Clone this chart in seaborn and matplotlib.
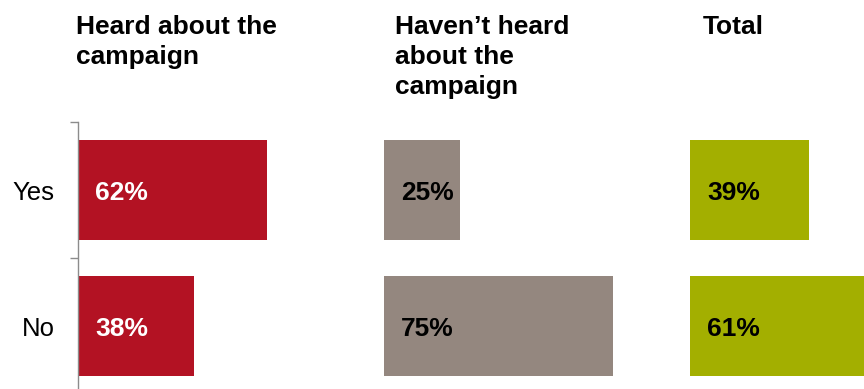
import matplotlib
matplotlib.use("Agg")
import matplotlib.pyplot as plt
import seaborn as sns
import pandas as pd

# Survey answers split by campaign awareness
answers = ["Yes", "No"]
heard = [62, 38]
not_heard = [25, 75]
total = [39, 61]

panel_titles = ["Heard about the\ncampaign", "Haven\u2019t heard\nabout the\ncampaign", "Total"]
panel_values = [heard, not_heard, total]
panel_colors = ["#B31223", "#94877F", "#A3AF00"]
label_colors = ["white", "black", "black"]

sns.set_theme(style="white")
plt.rcParams["font.family"] = ["Liberation Sans", "DejaVu Sans"]

W, H = 864, 389
fig = plt.figure(figsize=(W / 100, H / 100), dpi=100)

panel_left_px = [78, 384, 690]
panel_width_px = 305
axis_top_px, axis_bottom_px = 122, 394
title_x_px = [76, 395, 703]

for i, (vals, color, lab_col) in enumerate(zip(panel_values, panel_colors, label_colors)):
    ax = fig.add_axes([
        panel_left_px[i] / W,
        (H - axis_bottom_px) / H,
        panel_width_px / W,
        (axis_bottom_px - axis_top_px) / H,
    ])
    df = pd.DataFrame({"answer": answers, "share": vals})
    sns.barplot(data=df, x="share", y="answer", ax=ax, color=color,
                width=0.735, saturation=1, edgecolor="none", orient="h")
    ax.set_xlim(0, 100)
    ax.set_ylim(1.5, -0.5)
    ax.set_xlabel("")
    ax.set_ylabel("")
    ax.set_xticks([])
    for s in ["top", "right", "bottom"]:
        ax.spines[s].set_visible(False)

    for j, v in enumerate(vals):
        ax.annotate(f"{v}%", xy=(0, j), xytext=(17, -3), textcoords="offset pixels",
                    ha="left", va="center", fontsize=19, fontweight="bold",
                    color=lab_col)

    if i == 0:
        ax.spines["left"].set_color("#8C8C8C")
        ax.spines["left"].set_linewidth(1.0)
        ax.set_yticks([0, 1])
        ax.set_yticklabels(answers, fontsize=18.5, color="black")
        ax.tick_params(axis="y", which="major", length=0, pad=17)
        ax.set_yticks([-0.5, 0.5, 1.5], minor=True)
        ax.tick_params(axis="y", which="minor", left=True, length=6,
                       width=1.0, color="#8C8C8C", direction="out")
    else:
        ax.spines["left"].set_visible(False)
        ax.set_yticks([])

    fig.text(title_x_px[i] / W, 1 - 15 / H, panel_titles[i], ha="left", va="top",
             fontsize=19, fontweight="bold", color="black", linespacing=1.32)

fig.savefig("out.png", dpi=100)
